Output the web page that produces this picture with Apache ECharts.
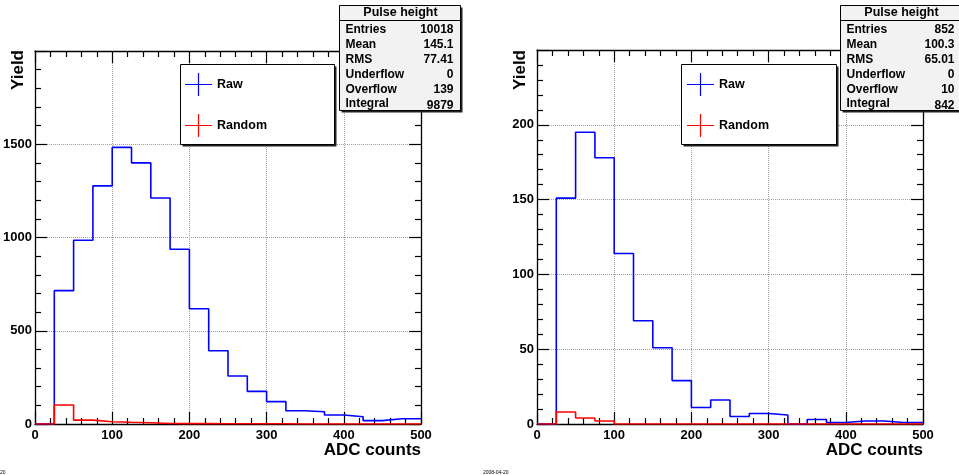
<!DOCTYPE html>
<html>
<head>
<meta charset="utf-8">
<script src="https://cdn.jsdelivr.net/npm/echarts@6/dist/echarts.min.js"></script>
<style>
  html, body { margin: 0; padding: 0; background: #fff; }
  #chart { width: 959px; height: 475px; }
</style>
</head>
<body>
<div id="chart"></div>
<script>
// bin lower edges (plus the closing edge at 500)
const binEdges = [0, 25, 50, 75, 100, 125, 150, 175, 200, 225, 250, 275, 300, 325, 350, 375, 400, 425, 450, 475, 500];

// left pad
const leftRaw = [0, 715, 985, 1277, 1483, 1400, 1212, 937, 618, 393, 257, 175, 120, 71, 66, 48, 39, 18, 28, 28];
const leftRandom = [0, 102, 21, 12, 9, 7, 3, 2, 2, 1, 1, 1, 1, 0, 0, 0, 0, 0, 0, 0];

// right pad
const rightRaw = [0, 151, 195, 178, 114, 69, 51, 29, 11, 16, 5, 7, 6, 0, 3, 1, 2, 2, 1, 1];
const rightRandom = [0, 8, 4, 2, 0, 0, 0, 0, 0, 0, 0, 0, 0, 0, 0, 0, 0, 0, 0, 0];

const xTicks = [0, 100, 200, 300, 400, 500];
const statLabels = ['Entries', 'Mean', 'RMS', 'Underflow', 'Overflow', 'Integral'];
const leftStats = ['10018', '145.1', '77.41', '0', '139', '9879'];
const rightStats = ['852', '100.3', '65.01', '0', '10', '842'];
const seriesNames = ['Raw', 'Random'];

const FONT = '"Liberation Sans", Arial, Helvetica, sans-serif';
const BLUE = '#0000ff';
const RED = '#ff0000';

// histogram outline points: [lowEdge, content], closed at the last edge
function toSteps(values) {
  return binEdges.map((e, i) => [e, values[Math.min(i, values.length - 1)]]);
}

const tickStyle = { color: '#000', width: 1.2 };
const labelStyle = { color: '#000', fontFamily: FONT, fontWeight: 'bold', fontSize: 13, formatter: v => String(v) };
const gridLine = { show: true, lineStyle: { color: '#a0a0a0', type: 'dotted', width: 1 } };

function xAxes(gridIndex) {
  const base = {
    gridIndex, type: 'value', min: xTicks[0], max: xTicks[xTicks.length - 1], interval: 100,
    axisLine: { show: true, onZero: false, lineStyle: { color: '#000', width: 1.3 } },
    axisTick: { show: true, inside: true, length: 12, lineStyle: tickStyle },
    minorTick: { show: true, splitNumber: 5, length: 6, lineStyle: tickStyle }
  };
  return [
    Object.assign({}, base, {
      position: 'bottom',
      axisLabel: Object.assign({ show: true, margin: 5 }, labelStyle),
      splitLine: gridLine
    }),
    Object.assign({}, base, {
      position: 'top',
      axisLabel: { show: false },
      splitLine: { show: false }
    })
  ];
}

function yAxes(gridIndex, max, interval) {
  const base = {
    gridIndex, type: 'value', min: 0, max, interval,
    axisLine: { show: true, onZero: false, lineStyle: { color: '#000', width: 1.3 } },
    axisTick: { show: true, inside: true, length: 12, lineStyle: tickStyle },
    minorTick: { show: true, splitNumber: 5, length: 6, lineStyle: tickStyle }
  };
  return [
    Object.assign({}, base, {
      position: 'left',
      axisLabel: Object.assign({ show: true, margin: 3, showMaxLabel: false }, labelStyle),
      splitLine: gridLine
    }),
    Object.assign({}, base, {
      position: 'right',
      axisLabel: { show: false },
      splitLine: { show: false }
    })
  ];
}

function histSeries(name, values, color, axisIndex) {
  return {
    name, type: 'line', step: 'end', data: toSteps(values),
    xAxisIndex: axisIndex, yAxisIndex: axisIndex,
    showSymbol: false, symbol: 'none', color,
    lineStyle: { color, width: 1.6 },
    silent: true, z: 3
  };
}

const plusIcon = 'path://M0,10.9L27,10.9L27,12.1L0,12.1Z M12.9,0L14.1,0L14.1,23L12.9,23Z';

function legendFor(left) {
  return {
    data: seriesNames, orient: 'vertical', left, top: 73, padding: 0,
    icon: plusIcon, itemWidth: 27, itemHeight: 23, itemGap: 18,
    itemStyle: { borderWidth: 0 },
    selectedMode: false, z: 12,
    textStyle: { color: '#000', fontFamily: FONT, fontWeight: 'bold', fontSize: 12.5 }
  };
}

function boxWithShadow(x, y, w, h, fill) {
  return [
    { type: 'rect', z: 10, silent: true, shape: { x: x + 2, y: y + 2, width: w, height: h }, style: { fill: '#222' } },
    { type: 'rect', z: 11, silent: true, shape: { x, y, width: w, height: h }, style: { fill, stroke: '#000', lineWidth: 1 } }
  ];
}

function statsBox(x, w, values) {
  const y = 5.5, h = 105;
  const items = boxWithShadow(x, y, w, h, '#f2f2f2');
  items.push({ type: 'line', z: 12, silent: true, shape: { x1: x, y1: 20.5, x2: x + w, y2: 20.5 }, style: { stroke: '#000', lineWidth: 1 } });
  items.push({ type: 'text', z: 12, silent: true, x: x + 61, y: 13,
    style: { text: 'Pulse height', fill: '#000', font: 'bold 12.5px ' + FONT, align: 'center', verticalAlign: 'middle' } });
  const rowY = [29.5, 45, 60, 74.5, 90, 104];
  statLabels.forEach((lab, i) => {
    items.push({ type: 'text', z: 12, silent: true, x: x + 6, y: rowY[i],
      style: { text: lab, fill: '#000', font: 'bold 12px ' + FONT, align: 'left', verticalAlign: 'middle' } });
    items.push({ type: 'text', z: 12, silent: true, x: x + 114, y: rowY[i] + (i === 5 ? 1.5 : 0),
      style: { text: values[i], fill: '#000', font: 'bold 12px ' + FONT, align: 'right', verticalAlign: 'middle' } });
  });
  return items;
}

function titles(frameRight, yieldX) {
  return [
    { type: 'text', z: 12, silent: true, x: yieldX, y: 50, rotation: Math.PI / 2,
      style: { text: 'Yield', fill: '#000', font: 'bold 17px ' + FONT, align: 'right', verticalAlign: 'middle' } },
    { type: 'text', z: 12, silent: true, x: frameRight, y: 450,
      style: { text: 'ADC counts', fill: '#000', font: 'bold 17px ' + FONT, align: 'right', verticalAlign: 'middle' } }
  ];
}

const graphics = [].concat(
  boxWithShadow(180.5, 64.5, 154, 80, '#fff'),
  boxWithShadow(681.5, 64.5, 155, 80, '#fff'),
  statsBox(339.5, 121, leftStats),
  statsBox(840.5, 121, rightStats),
  titles(421, 18),
  titles(923, 520),
  [
    { type: 'text', silent: true, x: -20, y: 473, style: { text: '2008-04-20', fill: '#000', font: '5px ' + FONT, verticalAlign: 'middle' } },
    { type: 'text', silent: true, x: 483, y: 473, style: { text: '2008-04-20', fill: '#000', font: '5px ' + FONT, verticalAlign: 'middle' } }
  ]
);

const chart = echarts.init(document.getElementById('chart'), null, { renderer: 'canvas' });
chart.setOption({
  animation: false,
  backgroundColor: '#fff',
  grid: [
    { left: 35, top: 51, width: 386, height: 373, outerBoundsMode: 'none', containLabel: false },
    { left: 537, top: 50, width: 386, height: 374, outerBoundsMode: 'none', containLabel: false }
  ],
  xAxis: [].concat(xAxes(0), xAxes(1)),
  yAxis: [].concat(yAxes(0, 2000, 500), yAxes(1, 250, 50)),
  legend: [legendFor(185), legendFor(687)],
  series: [
    histSeries('Raw', leftRaw, BLUE, 0),
    histSeries('Random', leftRandom, RED, 0),
    histSeries('Raw', rightRaw, BLUE, 2),
    histSeries('Random', rightRandom, RED, 2)
  ],
  graphic: graphics
});
</script>
</body>
</html>
